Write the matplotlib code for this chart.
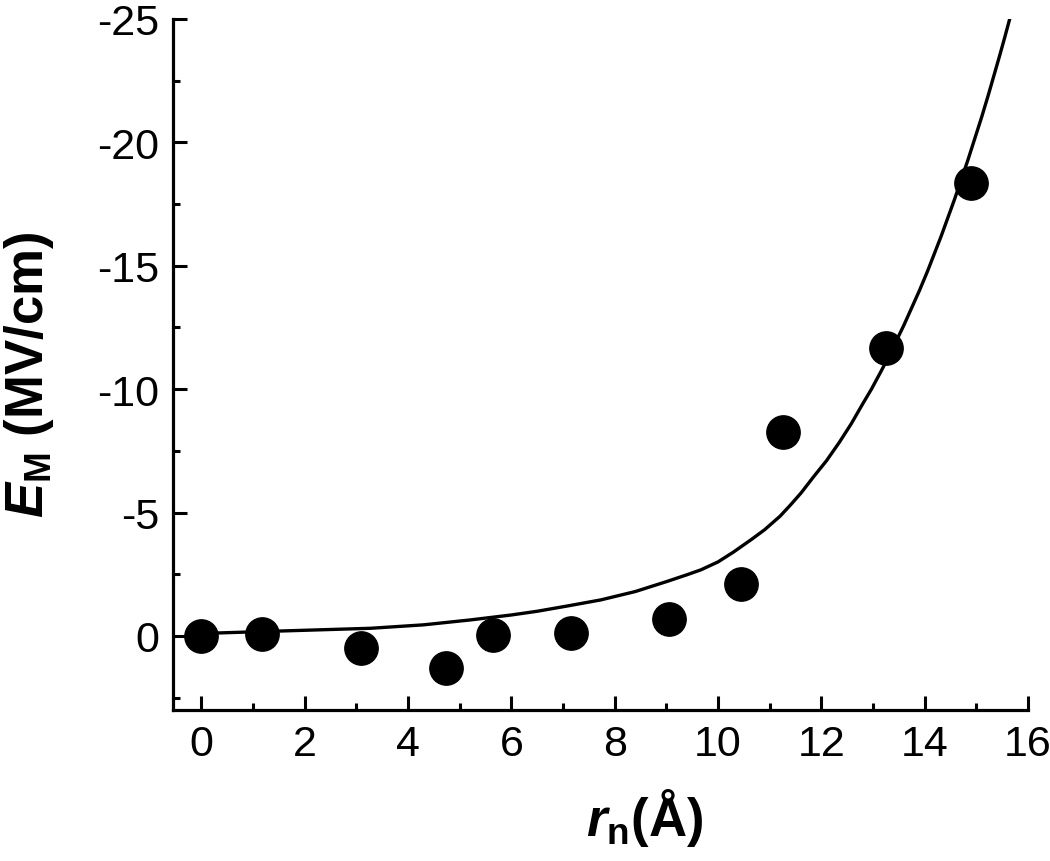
import matplotlib
matplotlib.use("Agg")
import matplotlib.pyplot as plt
from matplotlib.ticker import MultipleLocator

plt.rcParams['font.family'] = ['Liberation Sans', 'DejaVu Sans']
plt.rcParams['axes.unicode_minus'] = False
plt.rcParams['mathtext.fontset'] = 'custom'
plt.rcParams['mathtext.rm'] = 'Liberation Sans:bold'
plt.rcParams['mathtext.it'] = 'Liberation Sans:italic:bold'
plt.rcParams['mathtext.bf'] = 'Liberation Sans:bold'

# measured points
r_n = [0.0, 1.18, 3.08, 4.74, 5.64, 7.15, 9.05, 10.45, 11.26, 13.26, 14.9]
E_M = [0.0, -0.08, 0.49, 1.3, -0.04, -0.12, -0.69, -2.11, -8.28, -11.65, -18.34]

# fitted curve
fit_r = [0.0, 1.53, 3.27, 4.3, 5.21, 6.0, 6.5, 7.1, 7.73, 8.4, 9.0, 9.4, 9.67, 10.0,
         10.3, 10.64, 10.9, 11.2, 11.4, 11.61, 11.85, 12.1, 12.35, 12.58, 12.8,
         12.97, 13.15, 13.3, 13.45, 13.6, 13.75, 13.9, 14.05, 14.19, 14.32,
         14.45, 14.58, 14.71, 14.84, 14.97, 15.1, 15.23, 15.34, 15.45, 15.55, 15.64]
fit_E = [-0.1, -0.2, -0.31, -0.45, -0.65, -0.85, -1.0, -1.22, -1.46, -1.8, -2.2,
         -2.48, -2.68, -3.0, -3.4, -3.9, -4.3, -4.85, -5.3, -5.8, -6.45, -7.1,
         -7.85, -8.6, -9.4, -10.0, -10.7, -11.3, -11.95, -12.6, -13.3, -14.0,
         -14.75, -15.5, -16.2, -16.95, -17.7, -18.5, -19.3, -20.15, -21.0,
         -21.9, -22.7, -23.5, -24.25, -24.95]

fig = plt.figure(figsize=(10.5, 8.62), dpi=100)
ax = fig.add_axes([0.1648, 0.1752, 0.8142, 0.8016])

ax.plot(fit_r, fit_E, color='black', lw=2.4, zorder=2)
ax.plot(r_n, E_M, 'o', color='black', markersize=24, zorder=3)

ax.set_xlim(-0.55, 16)
ax.set_ylim(3, -25)
ax.set_xticks(range(0, 17, 2))
ax.set_yticks([-25, -20, -15, -10, -5, 0])
ax.xaxis.set_minor_locator(MultipleLocator(1))
ax.yaxis.set_minor_locator(MultipleLocator(2.5))

for s in ['top', 'right']:
    ax.spines[s].set_visible(False)
for s in ['left', 'bottom']:
    ax.spines[s].set_linewidth(2.3)

ax.tick_params(which='major', direction='in', length=10, width=2.2,
               labelsize=31, pad=10)
ax.tick_params(which='minor', direction='in', length=5, width=2.2)

ax.set_xlabel(r'$\mathit{r}_\mathrm{n}$(Å)', fontsize=38, fontweight='bold', va='center')
ax.set_ylabel(r'$\mathit{E}_\mathrm{M}$ (MV/cm)', fontsize=38, fontweight='bold', va='center')
ax.xaxis.set_label_coords(0.551, -0.155)
ax.yaxis.set_label_coords(-0.168, 0.486)

fig.savefig('out.png', dpi=100)
